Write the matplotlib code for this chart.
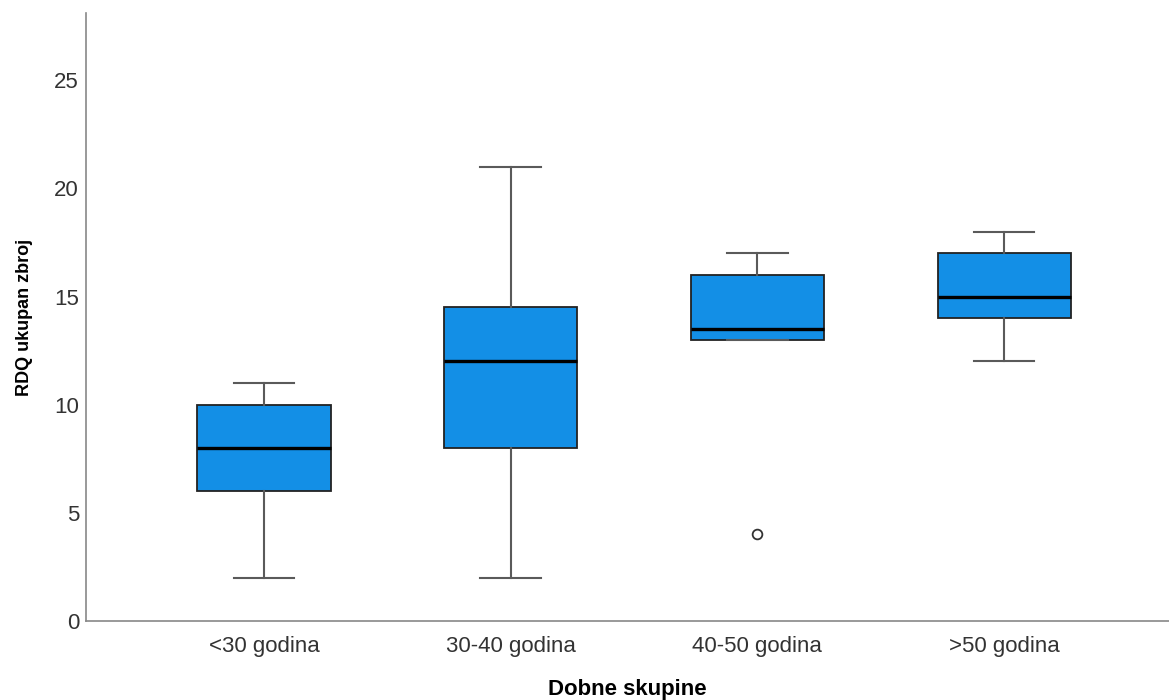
import matplotlib.pyplot as plt

# Boxplot summary per age group
groups = ["<30 godina", "30-40 godina", "40-50 godina", ">50 godina"]
whisker_lo = [2, 2, 13, 12]
q1 = [6, 8, 13, 14]
median = [8, 12, 13.5, 15]
q3 = [10, 14.5, 16, 17]
whisker_hi = [11, 21, 17, 18]
outliers = [[], [], [4], []]

plt.rcParams["font.family"] = ["Liberation Sans", "DejaVu Sans"]

fig = plt.figure(figsize=(11.69, 7.0), dpi=100)
ax = fig.add_axes([0.0736, 0.1129, 0.9264, 0.8681])

stats = []
for i, g in enumerate(groups):
    stats.append({
        "label": g,
        "whislo": whisker_lo[i],
        "q1": q1[i],
        "med": median[i],
        "q3": q3[i],
        "whishi": whisker_hi[i],
        "fliers": outliers[i],
    })

ax.bxp(
    stats,
    positions=range(1, len(groups) + 1),
    widths=0.54,
    patch_artist=True,
    boxprops=dict(facecolor="#138fe6", edgecolor="#222222", linewidth=1.3),
    medianprops=dict(color="black", linewidth=2.4),
    whiskerprops=dict(color="#5a5a5a", linewidth=1.5),
    capprops=dict(color="#5a5a5a", linewidth=1.5),
    capwidths=0.245,
    flierprops=dict(marker="o", markerfacecolor="white", markeredgecolor="#333333",
                    markersize=7, markeredgewidth=1.3),
)

ax.set_xlim(0.279, 4.668)
ax.set_ylim(0, 28.1)
ax.set_yticks([0, 5, 10, 15, 20, 25])

for s in ["top", "right"]:
    ax.spines[s].set_visible(False)
for s in ["left", "bottom"]:
    ax.spines[s].set_color("#888888")
    ax.spines[s].set_linewidth(1.2)

ax.tick_params(axis="both", length=0, labelsize=16, colors="#333333")
ax.tick_params(axis="x", pad=11)
ax.tick_params(axis="y", pad=5)

ax.set_xlabel("Dobne skupine", fontsize=16, fontweight="bold", labelpad=16)
ax.set_ylabel("RDQ ukupan zbroj", fontsize=13, fontweight="bold", labelpad=15)

fig.savefig("out.png", dpi=100)
